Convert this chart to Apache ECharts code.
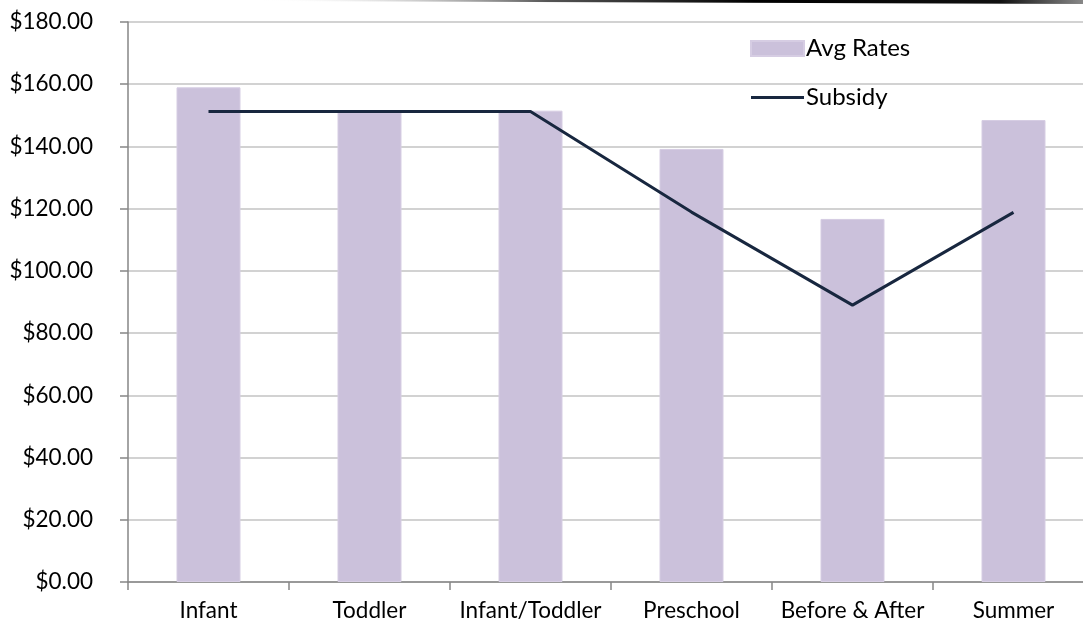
<!DOCTYPE html>
<html>
<head>
<meta charset="utf-8">
<script src="https://cdn.jsdelivr.net/npm/echarts@6/dist/echarts.min.js"></script>
<style>html,body{margin:0;padding:0;background:#fff;overflow:hidden}#c{width:1095px;height:630px}</style>
</head>
<body>
<div id="c"></div>
<script>
const categories = ['Infant', 'Toddler', 'Infant/Toddler', 'Preschool', 'Before & After', 'Summer'];
const avgRates = [159.0, 151.0, 151.5, 139.2, 116.7, 148.5];
const subsidy = [151.2, 151.2, 151.2, 118.9, 89.0, 118.8];
const yMin = 0, yMax = 180, yStep = 20;

const chart = echarts.init(document.getElementById('c'));
const font = 'Lato, "Open Sans", sans-serif';
chart.setOption({
  animation: false,
  textStyle: { fontFamily: font },
  graphic: [{
    type: 'polygon',
    shape: { points: [[260, 0], [1083, 0], [1083, 4], [260, 1]] },
    style: {
      fill: new echarts.graphic.LinearGradient(0, 0, 1, 0, [
        { offset: 0, color: 'rgba(255,255,255,0)' },
        { offset: 0.35, color: '#555' },
        { offset: 0.6, color: '#000' },
        { offset: 0.9, color: '#111' },
        { offset: 1, color: '#888' }
      ])
    },
    silent: true
  }],
  legend: {
    orient: 'vertical',
    left: 745,
    top: 31,
    itemWidth: 53,
    itemHeight: 15,
    itemGap: 24,
    textStyle: { fontSize: 24, lineHeight: 25, color: '#000', fontFamily: font, padding: [0, 0, 0, -3] },
    data: [
      { name: 'Avg Rates', icon: 'rect' },
      { name: 'Subsidy', icon: 'path://M0,7 L53,7 L53,10 L0,10 Z' }
    ]
  },
  grid: { left: 128, top: 22, width: 966, height: 560, containLabel: false },
  xAxis: {
    type: 'category',
    data: categories,
    axisLine: { lineStyle: { color: '#868686', width: 1.5 } },
    axisTick: { show: true, interval: 0, length: 8, lineStyle: { color: '#868686', width: 1.5 } },
    axisLabel: { interval: 0, fontSize: 22.5, color: '#000', margin: 17, fontFamily: font }
  },
  yAxis: {
    type: 'value',
    min: yMin, max: yMax, interval: yStep,
    axisLine: { show: true, lineStyle: { color: '#868686', width: 1.5 } },
    axisTick: { show: true, length: 8, lineStyle: { color: '#868686', width: 1.5 } },
    splitLine: { lineStyle: { color: '#c3c3c3', width: 1.5 } },
    axisLabel: { fontSize: 22.5, color: '#000', margin: 35, fontFamily: font,
      formatter: v => '$' + v.toFixed(2) }
  },
  series: [
    {
      name: 'Avg Rates', type: 'bar', data: avgRates, barWidth: 64,
      itemStyle: { color: '#cbc1db', borderColor: '#d6cde3', borderWidth: 1 }
    },
    {
      name: 'Subsidy', type: 'line', data: subsidy, symbol: 'none',
      lineStyle: { color: '#18273f', width: 3 },
      itemStyle: { color: '#18273f' }
    }
  ]
});
</script>
</body>
</html>
